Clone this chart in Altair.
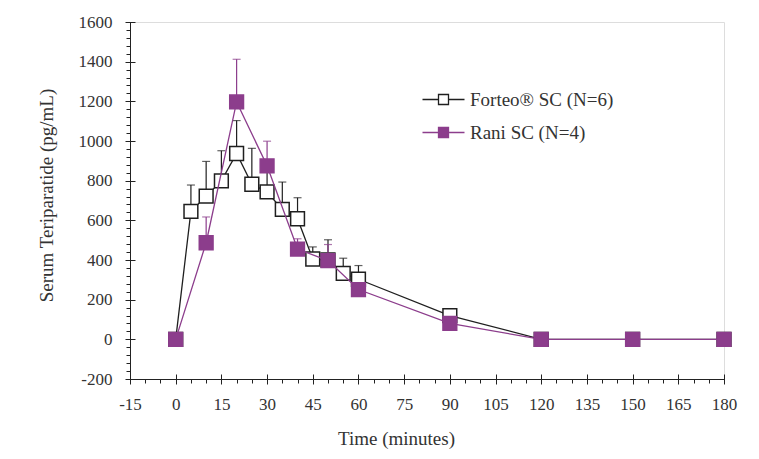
import altair as alt
import pandas as pd

# ---- data ----
series_names = ["Forteo® SC (N=6)", "Rani SC (N=4)"]
series_stroke = ["#1f1f1f", "#8c3d8c"]
series_fill = ["white", "#8c3d8c"]

time_forteo = [0, 5, 10, 15, 20, 25, 30, 35, 40, 45, 50, 55, 60, 90, 120, 150, 180]
mean_forteo = [0, 645, 722, 799, 937, 782, 743, 655, 608, 405, 400, 333, 303, 120, 0, 0, 0]
upper_forteo = [0, 778, 897, 951, 1103, 963, 860, 793, 714, 466, 502, 409, 372, 150, 0, 0, 0]

time_rani = [0, 10, 20, 30, 40, 50, 60, 90, 120, 150, 180]
mean_rani = [0, 487, 1197, 875, 455, 397, 251, 80, 0, 0, 0]
upper_rani = [0, 617, 1412, 999, 507, 478, 251, 80, 0, 0, 0]

x_ticks = list(range(-15, 181, 15))
x_minor = list(range(-15, 181, 5))
y_ticks = list(range(-200, 1601, 200))
y_minor = list(range(-200, 1601, 40))

df_f = pd.DataFrame({"time": time_forteo, "mean": mean_forteo, "upper": upper_forteo,
                     "series": series_names[0]})
df_r = pd.DataFrame({"time": time_rani, "mean": mean_rani, "upper": upper_rani,
                     "series": series_names[1]})

FONT = "Liberation Serif"
TXT = "#333333"
AX = "#222222"
PLAIN = "'' + datum.value"

x_scale = alt.Scale(domain=[-15, 180], nice=False, zero=False)
y_scale = alt.Scale(domain=[-200, 1600], nice=False, zero=False)

# main axes: domain, labels, titles
x_main = alt.Axis(orient="bottom", values=x_ticks, ticks=False, tickSize=0, grid=False,
                  domain=True, domainColor=AX, domainWidth=1, labelExpr=PLAIN,
                  labelFont=FONT, labelFontSize=17, labelColor=TXT, labelPadding=17,
                  labelFlush=False, labelOverlap=False,
                  title="Time (minutes)", titleFont=FONT, titleFontSize=19,
                  titleFontWeight="normal", titleColor=TXT, titlePadding=17, titleX=266)
y_main = alt.Axis(orient="left", values=y_ticks, ticks=False, tickSize=0, grid=False,
                  domain=True, domainColor=AX, domainWidth=1, labelExpr=PLAIN,
                  labelFont=FONT, labelFontSize=17, labelColor=TXT, labelPadding=18,
                  labelFlush=False, labelOverlap=False,
                  title="Serum Teriparatide (pg/mL)", titleFont=FONT, titleFontSize=19,
                  titleFontWeight="normal", titleColor=TXT, titlePadding=22, titleY=173)
# major ticks crossing the axis line
x_major = alt.Axis(orient="bottom", values=x_ticks, labels=False, domain=False, grid=False,
                   tickSize=10, offset=-5, tickColor=AX, tickWidth=1, title=None)
y_major = alt.Axis(orient="left", values=y_ticks, labels=False, domain=False, grid=False,
                   tickSize=10, offset=-5, tickColor=AX, tickWidth=1, title=None)
# minor ticks outside
x_min = alt.Axis(orient="bottom", values=x_minor, labels=False, domain=False, grid=False,
                 tickSize=4, tickColor=AX, tickWidth=1, title=None)
y_min = alt.Axis(orient="left", values=y_minor, labels=False, domain=False, grid=False,
                 tickSize=4, tickColor=AX, tickWidth=1, title=None)

legend = alt.Legend(title=None, orient="none", legendX=304, legendY=68,
                    symbolType="M-4.2,0H-1M1,0H4.2M-1,-1H1V1H-1Z", symbolSize=100,
                    symbolStrokeWidth=1.3, labelFont=FONT, labelFontSize=19,
                    labelColor=TXT, labelOffset=17, rowPadding=13, padding=0)

stroke_enc = alt.Stroke("series:N", scale=alt.Scale(domain=series_names, range=series_stroke),
                        legend=legend)
fill_enc = alt.Fill("series:N", scale=alt.Scale(domain=series_names, range=series_fill),
                    legend=legend)


def layers(df, color, xa_rule, ya_rule, xa_line, ya_line, xa_pt, ya_pt):
    base = alt.Chart(df)
    rules = base.mark_rule(color=color, strokeWidth=1.2).encode(
        x=alt.X("time:Q", scale=x_scale, axis=xa_rule),
        y=alt.Y("mean:Q", scale=y_scale, axis=ya_rule),
        y2="upper:Q",
    )
    caps = base.mark_tick(color=color, orient="horizontal", size=8, thickness=1.2).encode(
        x=alt.X("time:Q", scale=x_scale, axis=None),
        y=alt.Y("upper:Q", scale=y_scale, axis=None),
    )
    line = base.mark_line(color=color, strokeWidth=1.3).encode(
        x=alt.X("time:Q", scale=x_scale, axis=xa_line),
        y=alt.Y("mean:Q", scale=y_scale, axis=ya_line),
    )
    pts = base.mark_point(shape="square", filled=True, size=190, strokeWidth=1.5,
                          opacity=1, fillOpacity=1).encode(
        x=alt.X("time:Q", scale=x_scale, axis=xa_pt),
        y=alt.Y("mean:Q", scale=y_scale, axis=ya_pt),
        stroke=stroke_enc,
        fill=fill_enc,
    )
    return [rules, caps, line, pts]


lf = layers(df_f, series_stroke[0], x_min, y_min, x_major, y_major, x_main, y_main)
lr = layers(df_r, series_stroke[1], None, None, None, None, None, None)

chart = alt.layer(*lf, *lr).resolve_axis(
    x="independent", y="independent"
).properties(
    width=594, height=357,
    padding={"left": 122, "top": 14, "right": 20, "bottom": 70},
    autosize=alt.AutoSizeParams(type="none"),
).configure_view(stroke=None).configure(background="white")

chart.save("out.html", embed_options={"renderer": "svg", "actions": False})
